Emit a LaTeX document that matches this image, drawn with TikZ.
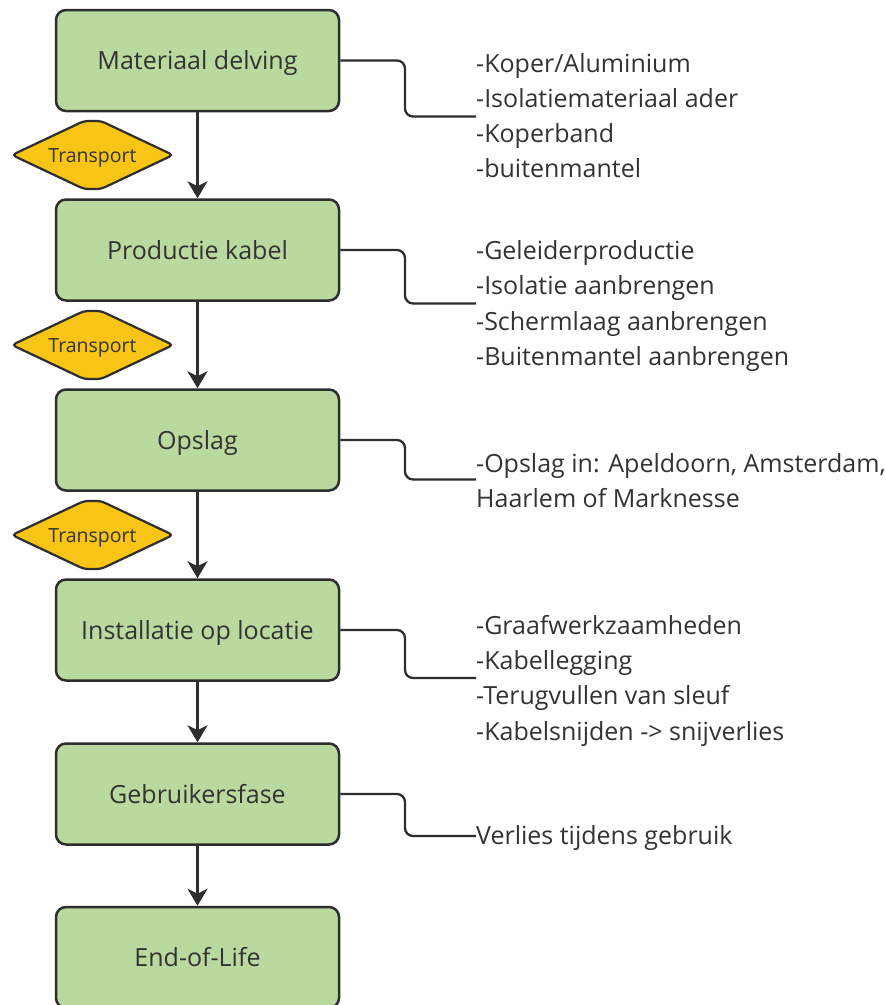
\documentclass[tikz,border=0pt]{standalone}
\usepackage{fontspec}
\setmainfont{Open Sans}
\usetikzlibrary{arrows.meta}
\definecolor{boxfill}{HTML}{B9D99E}
\definecolor{hexfill}{HTML}{F8C415}
\definecolor{ink}{HTML}{2E2E2E}
\definecolor{txt}{HTML}{333333}
\tikzset{
  stepbox/.style={draw=ink, line width=2.5pt, fill=boxfill, rounded corners=10pt,
    minimum width=283pt, minimum height=101pt, inner sep=0pt,
    text height=18pt, text depth=0pt,
    font=\fontsize{25}{30}\selectfont, text=txt},
  hexshape/.style={draw=ink, line width=2.2pt, fill=hexfill, rounded corners=4pt},
  hexlabel/.style={inner sep=0pt, text height=14pt, text depth=0pt,
    font=\fontsize{19.5}{22}\selectfont, text=txt},
  flowarrow/.style={draw=ink, line width=2.5pt, -{Stealth[length=17pt, width=20pt, inset=5pt]}},
  bracket/.style={draw=ink, line width=2.3pt, rounded corners=8pt},
  note/.style={anchor=base west, inner sep=0pt, font=\fontsize{25}{30}\selectfont, text=txt},
}
\begin{document}
\begin{tikzpicture}[x=1pt,y=-1pt]
\useasboundingbox (0,0) rectangle (886,1005);
\fill[white] (0,0) rectangle (886,1005);
% boxes
\node[stepbox] (b1) at (197.5,60.5) {Materiaal delving};
\node[stepbox] (b2) at (197.5,250) {Productie kabel};
\node[stepbox] (b3) at (197.5,440) {Opslag};
\node[stepbox] (b4) at (197.5,630) {Installatie op locatie};
\node[stepbox] (b5) at (197.5,794) {Gebruikersfase};
\node[stepbox] (b6) at (197.5,957.5) {End-of-Life};
% arrows
\draw[flowarrow] (b1.south) -- (b2.north);
\draw[flowarrow] (b2.south) -- (b3.north);
\draw[flowarrow] (b3.south) -- (b4.north);
\draw[flowarrow] (b4.south) -- (b5.north);
\draw[flowarrow] (b5.south) -- (b6.north);
% transport
\coordinate (h1) at (92.5,155);
\coordinate (h2) at (92.5,345);
\coordinate (h3) at (92.5,535);
\foreach \h in {h1,h2,h3}{
  \draw[hexshape, shift={(\h)}] (-80.5,0) -- (-8.5,-34) -- (8.5,-34) -- (80.5,0) -- (8.5,34) -- (-8.5,34) -- cycle;
}
\node[hexlabel] (t1) at (h1) {Transport};
\node[hexlabel] (t2) at (h2) {Transport};
\node[hexlabel] (t3) at (h3) {Transport};
% notes
\node[note] (n1a) at (476,72) {-Koper/Aluminium};
\node[note] (n1b) at (476,107) {-Isolatiemateriaal ader};
\node[note] (n1c) at (476,142.5) {-Koperband};
\node[note] (n1d) at (476,177.5) {-buitenmantel};
\node[note] (n2a) at (476,259) {-Geleiderproductie};
\node[note] (n2b) at (476,294.5) {-Isolatie aanbrengen};
\node[note] (n2c) at (476,330) {-Schermlaag aanbrengen};
\node[note] (n2d) at (476,365.5) {-Buitenmantel aanbrengen};
\node[note] (n3a) at (476,472) {-Opslag in: Apeldoorn, Amsterdam,};
\node[note] (n3b) at (476,507) {Haarlem of Marknesse};
\node[note] (n4a) at (476,634) {-Graafwerkzaamheden};
\node[note] (n4b) at (476,669) {-Kabellegging};
\node[note] (n4c) at (476,704.5) {-Terugvullen van sleuf};
\node[note] (n4d) at (476,740) {-Kabelsnijden -> snijverlies};
\node[note] (n5a) at (476,844) {Verlies tijdens gebruik};
% brackets
\coordinate (k1) at (405,60.5); \coordinate (e1) at (476,116.5);
\coordinate (k2) at (405,250);  \coordinate (e2) at (476,303.5);
\coordinate (k3) at (405,440);  \coordinate (e3) at (476,479.5);
\coordinate (k4) at (405,630);  \coordinate (e4) at (476,678);
\coordinate (k5) at (405,794);  \coordinate (e5) at (476,836);
\draw[bracket] (b1.east) -- (k1) |- (e1);
\draw[bracket] (b2.east) -- (k2) |- (e2);
\draw[bracket] (b3.east) -- (k3) |- (e3);
\draw[bracket] (b4.east) -- (k4) |- (e4);
\draw[bracket] (b5.east) -- (k5) |- (e5);
\end{tikzpicture}
\end{document}
